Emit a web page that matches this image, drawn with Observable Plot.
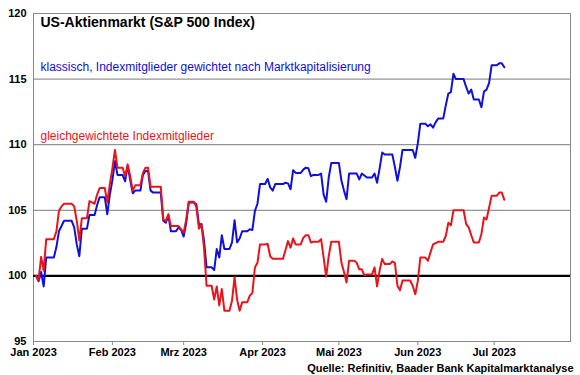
<!DOCTYPE html>
<html><head><meta charset="utf-8">
<script src="https://cdn.jsdelivr.net/npm/d3@7"></script>
<script src="https://cdn.jsdelivr.net/npm/@observablehq/plot@0.6"></script>
<style>body{margin:0;background:#fff;}</style>
</head><body><div id="chart"></div>
<script>
const dates = ["2023-01-02","2023-01-03","2023-01-04","2023-01-05","2023-01-06","2023-01-09","2023-01-10","2023-01-11","2023-01-12","2023-01-13","2023-01-17","2023-01-18","2023-01-19","2023-01-20","2023-01-23","2023-01-24","2023-01-25","2023-01-26","2023-01-27","2023-01-30","2023-01-31",
"2023-02-01","2023-02-02","2023-02-03","2023-02-06","2023-02-07","2023-02-08","2023-02-09","2023-02-10","2023-02-13","2023-02-14","2023-02-15","2023-02-16","2023-02-17","2023-02-21","2023-02-22","2023-02-23","2023-02-24","2023-02-27","2023-02-28",
"2023-03-01","2023-03-02","2023-03-03","2023-03-06","2023-03-07","2023-03-08","2023-03-09","2023-03-10","2023-03-13","2023-03-14","2023-03-15","2023-03-16","2023-03-17","2023-03-20","2023-03-21","2023-03-22","2023-03-23","2023-03-24","2023-03-27","2023-03-28","2023-03-29","2023-03-30","2023-03-31",
"2023-04-03","2023-04-04","2023-04-05","2023-04-06","2023-04-10","2023-04-11","2023-04-12","2023-04-13","2023-04-14","2023-04-17","2023-04-18","2023-04-19","2023-04-20","2023-04-21","2023-04-24","2023-04-25","2023-04-26","2023-04-27","2023-04-28",
"2023-05-01","2023-05-02","2023-05-03","2023-05-04","2023-05-05","2023-05-08","2023-05-09","2023-05-10","2023-05-11","2023-05-12","2023-05-15","2023-05-16","2023-05-17","2023-05-18","2023-05-19","2023-05-22","2023-05-23","2023-05-24","2023-05-25","2023-05-26","2023-05-30","2023-05-31",
"2023-06-01","2023-06-02","2023-06-05","2023-06-06","2023-06-07","2023-06-08","2023-06-09","2023-06-12","2023-06-13","2023-06-14","2023-06-15","2023-06-16","2023-06-20","2023-06-21","2023-06-22","2023-06-23","2023-06-26","2023-06-27","2023-06-28","2023-06-29","2023-06-30",
"2023-07-03","2023-07-05"];

const classic = [100,99.6,100.3,99.2,101.4,101.4,102.2,103.4,103.8,104.2,103.7,102.4,101.5,103.6,104.65,104.65,104.65,105.4,106.0,104.7,106.2,
107.3,108.75,107.7,107.2,108.4,107.3,106.3,106.5,107.7,108.0,108.0,106.5,106.35,104.2,104.05,104.6,103.4,103.7,103.5,
103.0,104.0,105.6,105.45,103.9,103.95,102.7,100.65,100.45,102.05,101.4,103.1,102.05,102.55,104.25,102.55,102.85,103.4,103.55,103.5,104.95,105.5,107.0,
107.4,106.75,106.5,107.0,107.1,107.05,106.6,108.05,107.85,108.1,108.25,108.2,107.6,107.7,107.8,106.2,105.65,107.5,108.6,
108.6,107.25,106.5,105.85,107.8,107.8,107.35,107.8,107.65,107.5,107.8,107.1,108.2,109.4,109.25,109.25,108.3,107.25,108.3,109.6,109.6,109.0,
110.1,111.6,111.4,111.55,111.3,111.7,112.0,113.0,113.9,114.0,115.4,115.0,114.4,113.9,114.2,113.45,112.85,114.05,114.2,114.7,116.05,
116.2,115.9];

const equalWeighted = [100,99.7,101.45,100.4,102.8,102.8,103.4,104.95,105.3,105.5,105.3,104.2,102.7,104.4,105.7,105.6,105.5,106.2,106.7,105.6,107.0,
108.2,109.6,108.25,107.6,108.5,107.6,106.5,106.9,107.85,108.25,108.25,106.8,106.8,104.3,104.2,104.7,103.8,103.8,103.55,
103.3,104.3,105.65,105.25,103.6,103.9,102.15,99.25,98.2,99.2,97.75,99.0,97.35,98.1,99.9,98.2,97.35,98.0,98.5,98.7,100.65,101.0,102.4,
102.45,101.5,101.3,101.3,101.95,102.65,102.15,102.85,102.4,102.9,103.1,103.1,102.55,102.6,102.8,101.4,99.95,101.5,102.6,
102.6,101.0,100.3,99.5,101.15,101.0,100.5,100.5,100.05,100.1,100.65,99.2,100.4,101.3,100.9,101.1,101.0,99.25,98.9,99.65,99.25,98.6,
99.6,101.4,101.15,101.8,102.4,102.5,102.6,103.05,104.05,103.85,105.0,105.0,103.95,103.7,103.1,102.55,103.2,104.45,104.3,105.2,106.1,
106.35,105.8];

const monthTicks = ["2023-01-01","2023-02-01","2023-03-01","2023-04-01","2023-05-01","2023-06-01","2023-07-01"];
const monthLabels = ["Jan 2023","Feb 2023","Mrz 2023","Apr 2023","Mai 2023","Jun 2023","Jul 2023"];
const yTicks = [95,100,105,110,115,120];
const gridLevels = [105,110,115];
const baseLevel = [100];
const titleText = "US-Aktienmarkt (S&P 500 Index)";
const labelClassic = "klassisch, Indexmitglieder gewichtet nach Marktkapitalisierung";
const labelEqual = "gleichgewichtete Indexmitglieder";
const sourceText = "Quelle: Refinitiv, Baader Bank Kapitalmarktanalyse";

const BLUE = "#1010d8";
const RED = "#e8141c";
const parse = d3.utcParse("%Y-%m-%d");

// calendar-daily table: each trading-day value is held until the next trading day
function dailyRows(values) {
  const rows = [];
  for (let i = 0; i < dates.length; i++) {
    const start = parse(dates[i]);
    const end = i + 1 < dates.length ? parse(dates[i + 1]) : d3.utcDay.offset(start, 1);
    for (const d of d3.utcDay.range(start, end)) rows.push({date: d, value: values[i]});
  }
  return rows;
}
const classicRows = dailyRows(classic);
const equalRows = dailyRows(equalWeighted);

const tickDates = monthTicks.map(parse);
const labelMap = new Map(tickDates.map((d, i) => [+d, monthLabels[i]]));

const font = "'Liberation Sans', Arial, sans-serif";

const chart = Plot.plot({
  width: 580,
  height: 375,
  marginLeft: 33,
  marginRight: 10,
  marginTop: 13,
  marginBottom: 34,
  style: {fontFamily: font, background: "#fff", color: "#000"},
  x: {type: "utc", domain: [parse("2023-01-01"), parse("2023-07-31")]},
  y: {domain: [95, 120]},
  marks: [
    Plot.ruleY(gridLevels, {stroke: "#7a7a7a", strokeWidth: 1}),
    Plot.frame({stroke: "#8a8a8a", strokeWidth: 1}),
    Plot.ruleY(baseLevel, {stroke: "#000", strokeWidth: 2.2}),
    Plot.axisY(yTicks, {tickSize: 0, tickPadding: 7, fontSize: 11, fontWeight: "bold", label: null}),
    Plot.axisX(tickDates, {tickSize: 4, tickPadding: 3, stroke: "#8a8a8a", tickFormat: d => labelMap.get(+d), fontSize: 11, fontWeight: "bold", label: null}),
    Plot.line(classicRows, {x: "date", y: "value", stroke: BLUE, strokeWidth: 2}),
    Plot.line(equalRows, {x: "date", y: "value", stroke: RED, strokeWidth: 2}),
    Plot.text([titleText], {frameAnchor: "top-left", dx: 7, dy: 9, lineAnchor: "middle", fontSize: 14, fontWeight: "bold", fill: "#000"}),
    Plot.text([labelClassic], {frameAnchor: "top-left", dx: 7, dy: 54, lineAnchor: "middle", fontSize: 12, fill: BLUE}),
    Plot.text([labelEqual], {frameAnchor: "top-left", dx: 7, dy: 123, lineAnchor: "middle", fontSize: 12, fill: RED}),
    Plot.text([sourceText], {frameAnchor: "bottom-right", dx: 3, dy: 27, lineAnchor: "middle", textAnchor: "end", fontSize: 11, fontWeight: "bold", fill: "#000"})
  ]
});
document.getElementById("chart").appendChild(chart);
</script>
</body></html>
